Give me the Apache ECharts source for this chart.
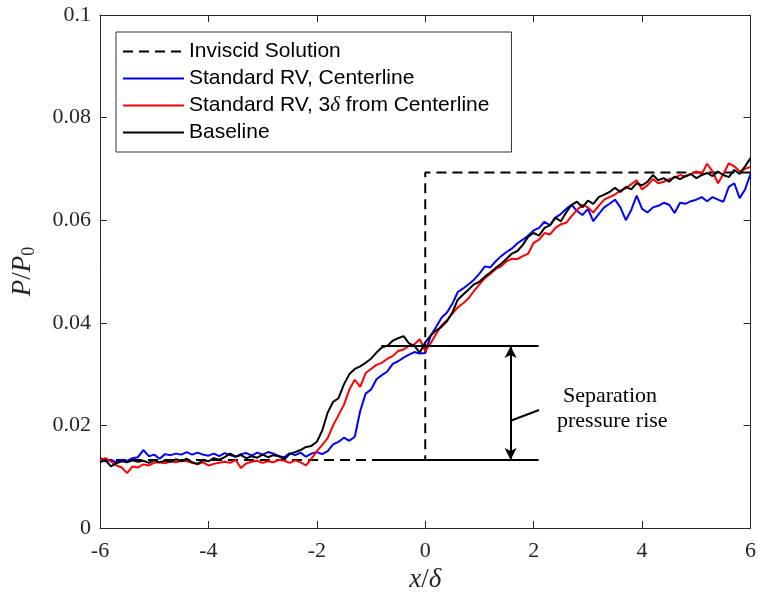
<!DOCTYPE html>
<html>
<head>
<meta charset="utf-8">
<script src="https://cdn.jsdelivr.net/npm/echarts@6/dist/echarts.min.js"></script>
<style>
  html, body { margin: 0; padding: 0; background: #fff; }
  #chart { width: 759px; height: 600px; }
</style>
</head>
<body>
<div id="chart"></div>
<script>
// sampling positions x/delta, -6 .. 6 step 0.1
const xs = [];
for (let i = 0; i <= 120; i++) xs.push(Math.round((-6 + i * 0.1) * 10) / 10);

const xTicks = [-6, -4, -2, 0, 2, 4, 6];
const yTicks = [0, 0.02, 0.04, 0.06, 0.08, 0.1];

// inviscid solution (step)
const inviscidX = [-6, 0, 0, 6];
const inviscidY = [0.01325, 0.01325, 0.0693, 0.0693];

const centerline = [
  0.0137, 0.0130, 0.0133, 0.0128, 0.0133, 0.0131, 0.0136, 0.0138, 0.0152, 0.0140,
  0.0143, 0.0135, 0.0144, 0.0142, 0.0145, 0.0143, 0.0148, 0.0143, 0.0147, 0.0143,
  0.0141, 0.0145, 0.0140, 0.0146, 0.0142, 0.0139, 0.0144, 0.0146, 0.0141, 0.0147,
  0.0143, 0.0148, 0.0145, 0.0140, 0.0138, 0.0146, 0.0142, 0.0147, 0.0139, 0.0145,
  0.0148, 0.0144, 0.0150, 0.0163, 0.0168, 0.0176, 0.0170, 0.0178, 0.0228, 0.0262,
  0.0270, 0.0290, 0.0298, 0.0305, 0.0320, 0.0325, 0.0332, 0.0338, 0.0343, 0.0340,
  0.0341, 0.0375, 0.0392, 0.0410, 0.0420, 0.0437, 0.0460, 0.0467, 0.0475, 0.0484,
  0.0496, 0.0510, 0.0508, 0.0520, 0.0530, 0.0538, 0.0545, 0.0555, 0.0562, 0.0570,
  0.0580, 0.0585, 0.0597, 0.0590, 0.0605, 0.0612, 0.0622, 0.0630, 0.0618, 0.0610,
  0.0622, 0.0598, 0.0612, 0.0625, 0.0632, 0.0640, 0.0625, 0.0600, 0.0620, 0.0648,
  0.0622, 0.0615, 0.0625, 0.0628, 0.0634, 0.0630, 0.0614, 0.0634, 0.0632, 0.0637,
  0.0640, 0.0645, 0.0637, 0.0645, 0.0640, 0.0636, 0.0665, 0.0672, 0.0643, 0.0660,
  0.0690
];

const offCenter = [
  0.0132, 0.0136, 0.0130, 0.0122, 0.0118, 0.0107, 0.0120, 0.0118, 0.0124, 0.0122,
  0.0127, 0.0128, 0.0126, 0.0130, 0.0128, 0.0131, 0.0130, 0.0127, 0.0124, 0.0128,
  0.0122, 0.0125, 0.0127, 0.0129, 0.0127, 0.0133, 0.0117, 0.0126, 0.0129, 0.0131,
  0.0127, 0.0130, 0.0128, 0.0133, 0.0131, 0.0127, 0.0132, 0.0128, 0.0122, 0.0135,
  0.0150, 0.0162, 0.0175, 0.0200, 0.0220, 0.0240, 0.0270, 0.0289, 0.0275, 0.0302,
  0.0310, 0.0318, 0.0322, 0.0330, 0.0335, 0.0345, 0.0348, 0.0355, 0.0358, 0.0368,
  0.0345, 0.0360, 0.0378, 0.0395, 0.0405, 0.0418, 0.0430, 0.0438, 0.0448, 0.0462,
  0.0475, 0.0487, 0.0495, 0.0505, 0.0510, 0.0520, 0.0525, 0.0524, 0.0530, 0.0535,
  0.0556, 0.0562, 0.0575, 0.0572, 0.0585, 0.0592, 0.0595, 0.0608, 0.0620, 0.0630,
  0.0625, 0.0615, 0.0628, 0.0640, 0.0645, 0.0650, 0.0658, 0.0662, 0.0670, 0.0678,
  0.0660, 0.0668, 0.0680, 0.0672, 0.0675, 0.0680, 0.0683, 0.0688, 0.0685, 0.0690,
  0.0695, 0.0690, 0.0710, 0.0695, 0.0672, 0.0690, 0.0711, 0.0705, 0.0695, 0.0700,
  0.0704
];

const baseline = [
  0.0128, 0.0133, 0.0120, 0.0126, 0.0130, 0.0128, 0.0132, 0.0129, 0.0131, 0.0127,
  0.0132, 0.0128, 0.0131, 0.0129, 0.0134, 0.0130, 0.0135, 0.0128, 0.0125, 0.0132,
  0.0130, 0.0136, 0.0133, 0.0138, 0.0145, 0.0139, 0.0142, 0.0136, 0.0140, 0.0137,
  0.0143, 0.0138, 0.0142, 0.0140, 0.0134, 0.0144, 0.0148, 0.0152, 0.0158, 0.0160,
  0.0168, 0.0190, 0.0225, 0.0246, 0.0253, 0.0280, 0.0300, 0.0310, 0.0315, 0.0322,
  0.0330, 0.0342, 0.0352, 0.0355, 0.0365, 0.0370, 0.0374, 0.0360, 0.0355, 0.0342,
  0.0362, 0.0375, 0.0385, 0.0392, 0.0403, 0.0420, 0.0445, 0.0455, 0.0465, 0.0475,
  0.0480, 0.0490, 0.0498, 0.0507, 0.0515, 0.0525, 0.0535, 0.0540, 0.0552, 0.0568,
  0.0575, 0.0570, 0.0585, 0.0590, 0.0605, 0.0598, 0.0615, 0.0630, 0.0636, 0.0625,
  0.0638, 0.0632, 0.0645, 0.0650, 0.0655, 0.0663, 0.0655, 0.0665, 0.0660, 0.0672,
  0.0668, 0.0675, 0.0688, 0.0678, 0.0682, 0.0675, 0.0685, 0.0680, 0.0686, 0.0690,
  0.0682, 0.0688, 0.0692, 0.0686, 0.0695, 0.0688, 0.0684, 0.0698, 0.0690, 0.0705,
  0.0721
];

// separation pressure rise annotation
const riseX = [-0.81, 2.09];
const riseTop = 0.0355;
const riseBottom = 0.01325;
const arrowX = 1.575;
const leaderX = [1.575, 2.1];
const leaderY = [0.0209, 0.0230];

const names = ['Inviscid Solution', 'Standard RV, Centerline', 'Standard RV, 3δ from Centerline', 'Baseline'];

const pair = (xv, yv) => xv.map((x, i) => [x, yv[i]]);
const axisColor = '#262626';
const serif = '"Liberation Serif", "Times New Roman", serif';
const sans = '"Liberation Sans", Arial, sans-serif';

const myChart = echarts.init(document.getElementById('chart'));

const boxAxis = {
    axisLine: { onZero: false, lineStyle: { color: axisColor } },
    axisTick: { inside: true, length: 7, lineStyle: { color: axisColor } },
    splitLine: { show: false }
};

const option = {
    animation: false,
    grid: { left: 100, width: 655, top: 15, height: 513 },
    legend: {
        data: names,
        orient: 'vertical',
        left: 116,
        top: 32,
        padding: [9, 22, 9, 6],
        itemWidth: 61,
        itemHeight: 21,
        itemGap: 6,
        backgroundColor: '#fff',
        borderColor: '#333',
        borderWidth: 1,
        borderRadius: 0,
        itemStyle: { opacity: 0 },
        textStyle: {
            fontFamily: sans,
            fontSize: 21,
            color: '#000',
            rich: {
                n: { fontFamily: sans, fontSize: 21, color: '#000' },
                i: { fontFamily: serif, fontStyle: 'italic', fontSize: 21, color: '#000' }
            }
        },
        formatter: function (name) {
            if (name.indexOf('3δ') >= 0) return '{n|Standard RV, 3}{i|δ}{n| from Centerline}';
            return '{n|' + name + '}';
        }
    },
    xAxis: [Object.assign({}, boxAxis, {
        type: 'value',
        min: -6, max: 6, interval: 2,
        name: '{i|x}/{i|δ}',
        nameLocation: 'middle',
        nameGap: 36,
        nameTextStyle: { rich: { i: { fontFamily: serif, fontStyle: 'italic', fontSize: 27, color: axisColor } }, fontFamily: serif, fontSize: 27, color: axisColor },
        axisLabel: { fontFamily: serif, fontSize: 22, color: axisColor, margin: 12,
            formatter: v => xTicks.indexOf(v) >= 0 ? String(v) : '' }
    }), Object.assign({}, boxAxis, {
        type: 'value', position: 'top',
        min: -6, max: 6, interval: 2,
        axisLabel: { show: false }
    })],
    yAxis: [Object.assign({}, boxAxis, {
        type: 'value',
        min: 0, max: 0.1, interval: 0.02,
        name: '{i|P}/{i|P}{s|0}',
        nameLocation: 'middle',
        nameGap: 62,
        nameRotate: 90,
        nameTextStyle: { rich: {
            i: { fontFamily: serif, fontStyle: 'italic', fontSize: 27, color: axisColor },
            s: { fontFamily: serif, fontSize: 18, color: axisColor, verticalAlign: 'bottom', padding: [12, 0, 0, 0] }
        }, fontFamily: serif, fontSize: 27, color: axisColor },
        axisLine: { show: true, onZero: false, lineStyle: { color: axisColor } },
        axisTick: { show: true, inside: true, length: 7, lineStyle: { color: axisColor } },
        axisLabel: { fontFamily: serif, fontSize: 22, color: axisColor, margin: 9,
            formatter: v => { const t = yTicks.find(k => Math.abs(k - v) < 1e-9); return t === undefined ? '' : String(t); } }
    }), Object.assign({}, boxAxis, {
        type: 'value', position: 'right',
        min: 0, max: 0.1, interval: 0.02,
        axisLine: { show: true, onZero: false, lineStyle: { color: axisColor } },
        axisTick: { show: true, inside: true, length: 7, lineStyle: { color: axisColor } },
        axisLabel: { show: false }
    })],
    series: [
        {
            name: names[0], type: 'line', symbol: 'none',
            data: pair(inviscidX, inviscidY),
            lineStyle: { color: '#000', width: 2, type: [10, 6] },
            itemStyle: { color: '#000' }
        },
        {
            name: names[1], type: 'line', symbol: 'none',
            data: pair(xs, centerline),
            lineStyle: { color: '#0000ff', width: 2 },
            itemStyle: { color: '#0000ff' }
        },
        {
            name: names[2], type: 'line', symbol: 'none',
            data: pair(xs, offCenter),
            lineStyle: { color: '#ff0000', width: 2 },
            itemStyle: { color: '#ff0000' }
        },
        {
            name: names[3], type: 'line', symbol: 'none',
            data: pair(xs, baseline),
            lineStyle: { color: '#000', width: 2 },
            itemStyle: { color: '#000' }
        },
        {
            name: 'riseTop', type: 'line', symbol: 'none', silent: true,
            data: pair(riseX, [riseTop, riseTop]),
            lineStyle: { color: '#000', width: 2 }
        },
        {
            name: 'riseBottom', type: 'line', symbol: 'none', silent: true,
            data: pair(riseX, [riseBottom, riseBottom]),
            lineStyle: { color: '#000', width: 2 }
        },
        {
            name: 'leader', type: 'line', symbol: 'none', silent: true,
            data: pair(leaderX, leaderY),
            lineStyle: { color: '#000', width: 2 }
        },
        {
            name: 'arrow', type: 'line', symbol: 'none', silent: true,
            data: [],
            markLine: {
                silent: true,
                symbol: ['arrow', 'arrow'],
                symbolSize: [9, 12],
                label: { show: false },
                lineStyle: { color: '#000', width: 2, type: 'solid' },
                data: [[{ coord: [arrowX, riseTop] }, { coord: [arrowX, riseBottom] }]]
            }
        }
    ],
    graphic: [
        { type: 'text', left: 563, top: 385, style: { text: 'Separation', font: '22px ' + serif, fill: '#000' } },
        { type: 'text', left: 557, top: 410, style: { text: 'pressure rise', font: '22px ' + serif, fill: '#000' } }
    ]
};
myChart.setOption(option);
</script>
</body>
</html>
